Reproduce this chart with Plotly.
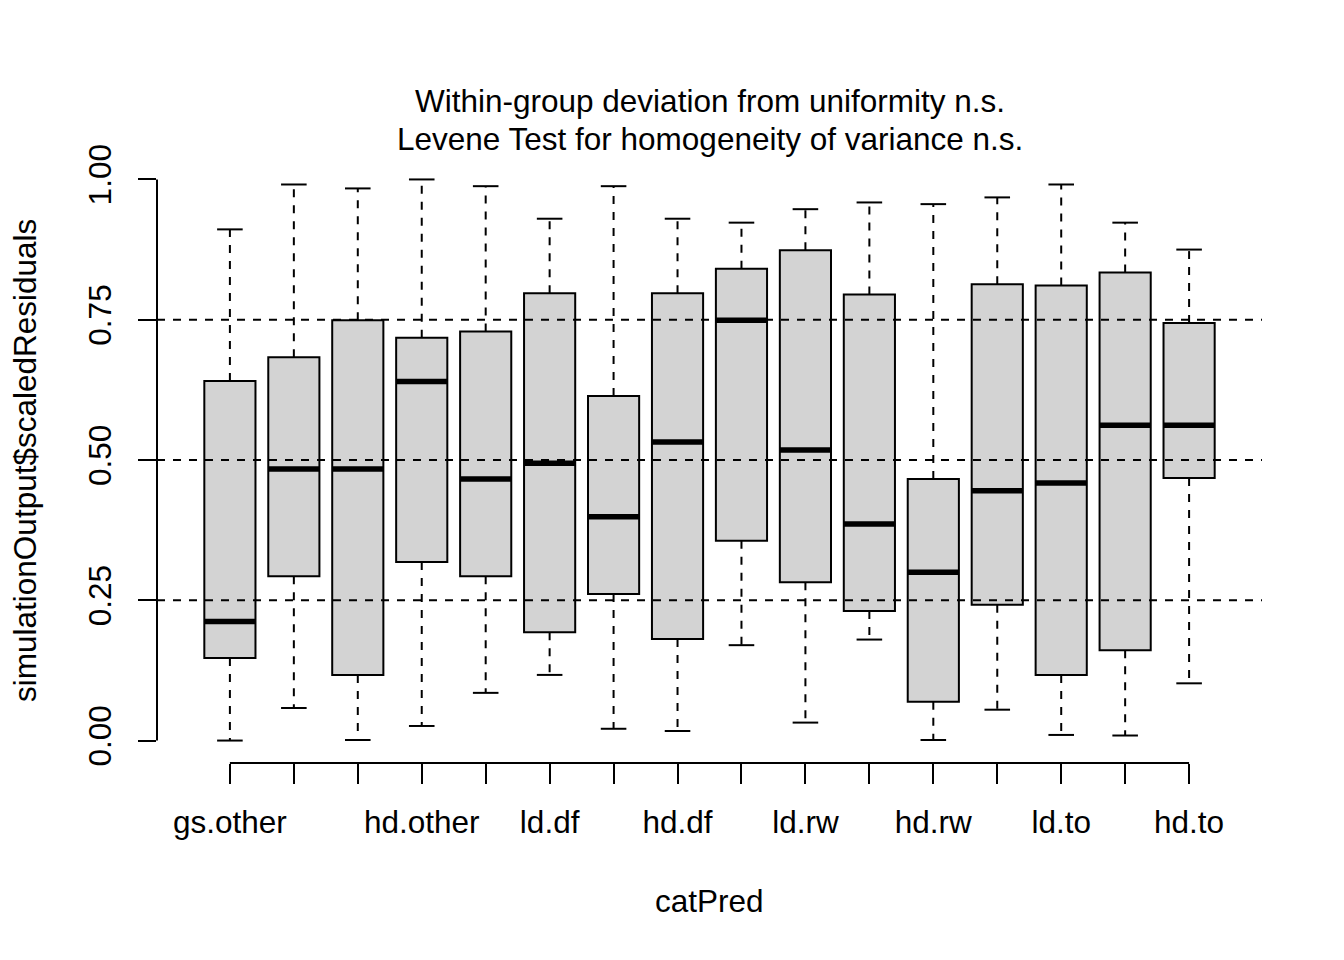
import plotly.graph_objects as go

categories = ["gs.other", "ld.other", "md.other", "hd.other",
              "gs.df", "ld.df", "md.df", "hd.df",
              "gs.rw", "ld.rw", "md.rw", "hd.rw",
              "gs.to", "ld.to", "md.to", "hd.to"]
# labels R actually printed (others dropped for overlap)
shown_labels = ["gs.other", "", "", "hd.other", "", "ld.df", "", "hd.df",
                "", "ld.rw", "", "hd.rw", "", "ld.to", "", "hd.to"]
lower = [0.000, 0.058, 0.001, 0.026, 0.085, 0.117, 0.021, 0.017,
         0.170, 0.032, 0.180, 0.001, 0.055, 0.010, 0.009, 0.102]
q1 = [0.147, 0.293, 0.117, 0.318, 0.293, 0.193, 0.261, 0.181,
      0.356, 0.282, 0.231, 0.069, 0.242, 0.117, 0.161, 0.468]
median = [0.212, 0.484, 0.484, 0.640, 0.466, 0.494, 0.399, 0.532,
          0.749, 0.518, 0.386, 0.300, 0.445, 0.459, 0.562, 0.562]
q3 = [0.641, 0.683, 0.749, 0.718, 0.729, 0.797, 0.614, 0.797,
      0.841, 0.874, 0.795, 0.466, 0.813, 0.811, 0.834, 0.744]
upper = [0.911, 0.991, 0.984, 1.000, 0.988, 0.930, 0.988, 0.930,
         0.923, 0.947, 0.959, 0.956, 0.968, 0.991, 0.923, 0.875]
ytick_vals = [0.0, 0.25, 0.5, 0.75, 1.0]
ytick_text = ["0.00", "0.25", "0.50", "0.75", "1.00"]
grid_levels = [0.25, 0.5, 0.75]

title_lines = ["Within-group deviation from uniformity n.s.",
               "Levene Test for homogeneity of variance n.s."]
xlabel = "catPred"
ylabel = "simulationOutput$scaledResiduals"

FONT = "Liberation Sans, Arial, sans-serif"
FS = 31.5
BOXW = 0.8
STAPLE = 0.2
LW = 2

pos = list(range(1, len(categories) + 1))

fig = go.Figure()

fig.add_trace(go.Box(
    x=pos, q1=q1, median=median, q3=q3,
    lowerfence=q1, upperfence=q3,
    width=BOXW, whiskerwidth=0,
    fillcolor="#D3D3D3",
    line=dict(color="black", width=LW),
    boxpoints=False, showlegend=False, hoverinfo="skip",
))

# dashed whiskers
wx, wy = [], []
for p, lo, a, b, hi in zip(pos, lower, q1, q3, upper):
    wx += [p, p, None, p, p, None]
    wy += [b, hi, None, a, lo, None]
fig.add_trace(go.Scatter(x=wx, y=wy, mode="lines",
                         line=dict(color="black", width=LW, dash="8px,8px"),
                         showlegend=False, hoverinfo="skip"))

# staples
sx, sy = [], []
for p, lo, hi in zip(pos, lower, upper):
    sx += [p - STAPLE, p + STAPLE, None, p - STAPLE, p + STAPLE, None]
    sy += [hi, hi, None, lo, lo, None]
fig.add_trace(go.Scatter(x=sx, y=sy, mode="lines",
                         line=dict(color="black", width=LW),
                         showlegend=False, hoverinfo="skip"))

# thick medians
mx, my = [], []
for p, m in zip(pos, median):
    mx += [p - BOXW / 2, p + BOXW / 2, None]
    my += [m, m, None]
fig.add_trace(go.Scatter(x=mx, y=my, mode="lines",
                         line=dict(color="black", width=5.5),
                         showlegend=False, hoverinfo="skip"))

shapes = []
for g in grid_levels:
    shapes.append(dict(type="line", xref="paper", yref="y", x0=0, x1=1,
                       y0=g, y1=g, layer="above",
                       line=dict(color="black", width=LW, dash="8px,8px")))
# axis lines spanning ticks only (R style)
shapes.append(dict(type="line", xref="paper", yref="y", x0=0, x1=0,
                   y0=ytick_vals[0], y1=ytick_vals[-1], layer="above",
                   line=dict(color="black", width=LW)))
shapes.append(dict(type="line", xref="x", yref="paper", x0=pos[0], x1=pos[-1],
                   y0=0, y1=0, layer="above",
                   line=dict(color="black", width=LW)))

annotations = [
    dict(text=title_lines[0], xref="paper", yref="paper", x=0.5, y=1.0925,
         xanchor="center", yanchor="middle", showarrow=False,
         font=dict(family=FONT, size=FS, color="black")),
    dict(text=title_lines[1], xref="paper", yref="paper", x=0.5, y=1.0297,
         xanchor="center", yanchor="middle", showarrow=False,
         font=dict(family=FONT, size=FS, color="black")),
    dict(text=xlabel, xref="paper", yref="paper", x=0.5, y=-0.227,
         xanchor="center", yanchor="middle", showarrow=False,
         font=dict(family=FONT, size=FS, color="black")),
    dict(text=ylabel, xref="paper", yref="paper", x=-0.1195, y=0.5,
         xanchor="center", yanchor="middle", showarrow=False, textangle=-90,
         font=dict(family=FONT, size=FS, color="black")),
]

fig.update_layout(
    width=1344, height=960,
    margin=dict(l=149, r=90, t=149, b=205, autoexpand=False),
    paper_bgcolor="white", plot_bgcolor="white",
    font=dict(family=FONT, size=FS, color="black"),
    showlegend=False,
    shapes=shapes,
    annotations=annotations,
    xaxis=dict(range=[-0.14, 17.14], tickmode="array", tickvals=pos,
               ticktext=shown_labels, ticks="outside", ticklen=20,
               tickwidth=LW, tickcolor="black", showline=False,
               showgrid=False, zeroline=False, ticklabelstandoff=11,
               tickfont=dict(family=FONT, size=FS, color="black")),
    yaxis=dict(range=[-0.04, 1.04], tickmode="array", tickvals=ytick_vals,
               ticktext=ytick_text, ticks="outside", ticklen=18,
               tickwidth=LW, tickcolor="black", showline=False,
               showgrid=False, zeroline=False, tickangle=-90,
               ticklabelstandoff=14,
               tickfont=dict(family=FONT, size=FS, color="black")),
)

fig.write_html("out.html")
